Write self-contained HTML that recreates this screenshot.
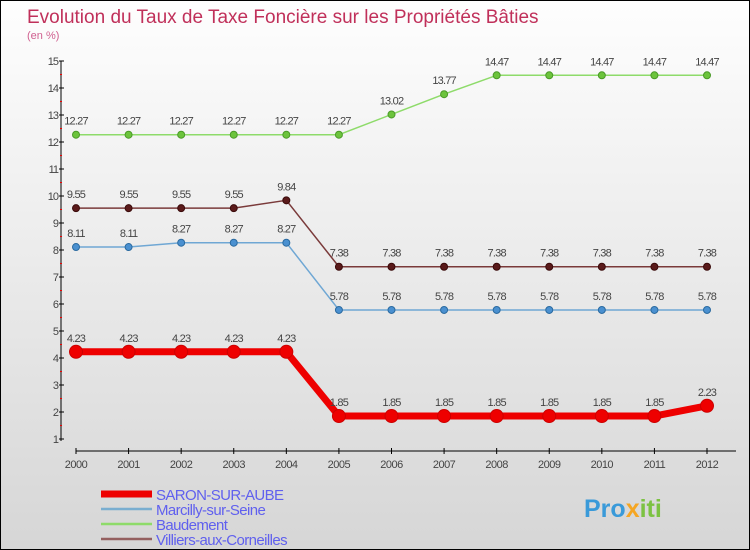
<!DOCTYPE html>
<html><head><meta charset="utf-8"><style>
body{margin:0;}
#c{width:750px;height:550px;position:relative;box-sizing:border-box;border:1px solid #000;background:linear-gradient(#fefefe,#d6d6d6);font-family:"Liberation Sans",sans-serif;overflow:hidden}
svg text{font-family:"Liberation Sans",sans-serif}
</style></head><body>
<div id="c">
<svg width="750" height="550" id="s">
<text x="26" y="22" font-size="19" fill="#c0305a">Evolution du Taux de Taxe Foncière sur les Propriétés Bâties</text>
<text x="26" y="38" font-size="11" fill="#d06090">(en %)</text>
<g id="axes"></g><g id="series"></g><g id="legend"></g>
<text x="583" y="516" font-size="25" font-weight="bold" fill="#3a9ad9">Pro<tspan fill="#f5a623">x</tspan><tspan fill="#7cc242">iti</tspan></text>
</svg></div>
<script>
const years=[2000,2001,2002,2003,2004,2005,2006,2007,2008,2009,2010,2011,2012];
const yTicks=[1,2,3,4,5,6,7,8,9,10,11,12,13,14,15];
const saron=[4.23,4.23,4.23,4.23,4.23,1.85,1.85,1.85,1.85,1.85,1.85,1.85,2.23];
const marcilly=[8.11,8.11,8.27,8.27,8.27,5.78,5.78,5.78,5.78,5.78,5.78,5.78,5.78];
const baudement=[12.27,12.27,12.27,12.27,12.27,12.27,13.02,13.77,14.47,14.47,14.47,14.47,14.47];
const villiers=[9.55,9.55,9.55,9.55,9.84,7.38,7.38,7.38,7.38,7.38,7.38,7.38,7.38];
const NS="http://www.w3.org/2000/svg";
const X=i=>75+i*(706-75)/(years.length-1);
const Y=v=>438-(v-1)*27;
function mk(tag,at,p){const e=document.createElementNS(NS,tag);for(const k in at)e.setAttribute(k,at[k]);p.appendChild(e);return e;}
const ax=document.getElementById('axes');
let yl=mk('line',{x1:60,y1:Y(15),x2:60,y2:Y(1)+2,stroke:'#000'},ax);


yTicks.forEach(v=>{
 mk('line',{x1:58,x2:63,y1:Y(v),y2:Y(v),stroke:'#000'},ax);
 if(v<15)mk('line',{x1:59,x2:61,y1:Y(v+0.5),y2:Y(v+0.5),stroke:'#e00'},ax);
 const t=mk('text',{x:57,y:Y(v)+4,'text-anchor':'end','font-size':11,fill:'#444','letter-spacing':'-1'},ax);t.textContent=v;
 
 
});
let xl=mk('line',{x1:75,y1:450,x2:735,y2:450,stroke:'#000'},ax);


years.forEach((y,i)=>{
 mk('line',{x1:X(i),x2:X(i),y1:447,y2:453,stroke:'#000'},ax);
 const t=mk('text',{x:X(i),y:467,'text-anchor':'middle','font-size':11,fill:'#444','letter-spacing':'-0.5'},ax);t.textContent=y;
 
 
});
const sg=document.getElementById('series');
function draw(name,vals,color,w,r,dot,stroke){
 const g=mk('g',{},sg);
 
 
 mk('polyline',{points:vals.map((v,i)=>X(i)+','+Y(v)).join(' '),fill:'none',stroke:color,'stroke-width':w,'stroke-linejoin':'round'},g);
 vals.forEach((v,i)=>{
  const c=mk('circle',{cx:X(i),cy:Y(v),r:r,fill:dot,stroke:stroke,'stroke-width':1},g);
  
  
  const t=mk('text',{x:X(i),y:Y(v)-10,'text-anchor':'middle','font-size':11,fill:'#444','letter-spacing':'-0.8'},g);t.textContent=v;
  
  
 });
}
draw('baudement',baudement,'#8edb6a',1.5,3.5,'#6cc43c','#4a9a28');
draw('villiers',villiers,'#7a3a3a',1.5,3.5,'#5a1a1a','#3a0a0a');
draw('marcilly',marcilly,'#6fa7d4',1.5,3.5,'#4a90d0','#2a6aa0');
draw('saron',saron,'#ee0000',7,6.5,'#ee0000','#cc0000');
const lg=document.getElementById('legend');
const names=['SARON-SUR-AUBE','Marcilly-sur-Seine','Baudement','Villiers-aux-Corneilles'];
const cols=['#ee0000','#7aaed0','#8edb6a','#946060'];
const ws=[7,2.5,2.5,2.5];
names.forEach((n,i)=>{
 const y=493+i*15;
 const g=mk('g',{},lg);
 
 
 mk('line',{x1:100,x2:151,y1:y,y2:y,stroke:cols[i],'stroke-width':ws[i]},g);
 const t=mk('text',{x:155,y:y+6,'font-size':15,fill:'#6060ee','letter-spacing':'-0.6'},g);t.textContent=n;
});
</script>
</body></html>
